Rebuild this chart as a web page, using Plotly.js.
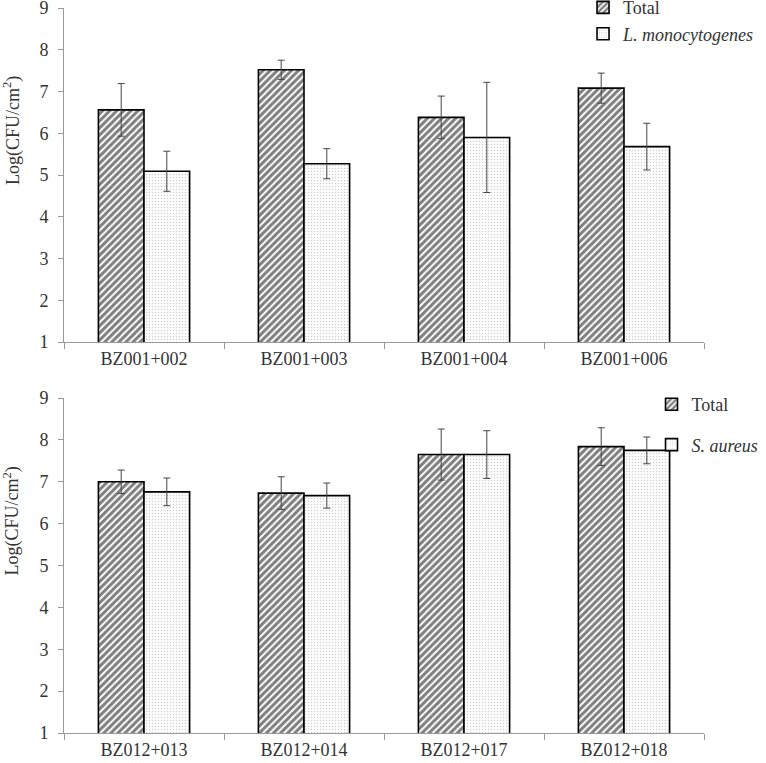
<!DOCTYPE html>
<html>
<head>
<meta charset="utf-8">
<script src="https://cdn.plot.ly/plotly-3.0.1.min.js"></script>
<style>html,body{margin:0;padding:0;background:#fff;}#chart{width:766px;height:763px;}</style>
</head>
<body>
<div id="chart"></div>
<script>
// Top panel
const catsTop = ["BZ001+002", "BZ001+003", "BZ001+004", "BZ001+006"];
const totalTop = [6.56, 7.52, 6.38, 7.08];
const totalTopErr = [0.63, 0.23, 0.51, 0.36];
const listeria = [5.09, 5.27, 5.90, 5.68];
const listeriaErr = [0.48, 0.36, 1.32, 0.56];
// Bottom panel
const catsBot = ["BZ012+013", "BZ012+014", "BZ012+017", "BZ012+018"];
const totalBot = [7.00, 6.73, 7.65, 7.84];
const totalBotErr = [0.28, 0.39, 0.61, 0.45];
const aureus = [6.76, 6.67, 7.65, 7.75];
const aureusErr = [0.33, 0.30, 0.57, 0.32];

const FONT = "'Liberation Serif', 'Times New Roman', serif";
const FS = 18;
const hatch = {shape: "/", fgcolor: "#000", bgcolor: "#fff", size: 5, solidity: 0.6, fillmode: "overlay"};
const dots = {shape: ".", fgcolor: "#999", bgcolor: "#fff", size: 3, solidity: 0.2, fillmode: "overlay"};
const line = {color: "#000", width: 1.6};
const err = (a) => ({type: "data", array: a, visible: true, color: "#444", thickness: 1, width: 3.5});

const traces = [
  {type: "bar", name: "Total", x: catsTop, y: totalTop, error_y: err(totalTopErr),
   marker: {color: "#fff", pattern: hatch, line: line}, xaxis: "x", yaxis: "y", legend: "legend"},
  {type: "bar", name: "<i>L. monocytogenes</i>", x: catsTop, y: listeria, error_y: err(listeriaErr),
   marker: {color: "#fff", pattern: dots, line: line}, xaxis: "x", yaxis: "y", legend: "legend"},
  {type: "bar", name: "Total", x: catsBot, y: totalBot, error_y: err(totalBotErr), legendgroup: "a",
   marker: {color: "#fff", pattern: hatch, line: line}, xaxis: "x2", yaxis: "y2", legend: "legend2"},
  {type: "bar", name: "<i>S. aureus</i>", x: catsBot, y: aureus, error_y: err(aureusErr), legendgroup: "b",
   marker: {color: "#fff", pattern: dots, line: line}, xaxis: "x2", yaxis: "y2", legend: "legend2"}
];

const xax = (anchor) => ({
  anchor: anchor, domain: [0, 1], showline: true, linecolor: "#999", linewidth: 1,
  ticks: "outside", tickson: "boundaries", ticklen: 6, tickcolor: "#999",
  tickfont: {family: FONT, size: FS, color: "#333"}, showgrid: false
});
const yax = (anchor, domain) => ({
  anchor: anchor, domain: domain, range: [1, 9], dtick: 1, tick0: 1, showline: true, linecolor: "#999",
  linewidth: 1, ticks: "outside", ticklen: 5, tickcolor: "#999", showgrid: false, zeroline: false,
  ticklabelstandoff: 6, ticklabeloverflow: "allow", tickfont: {family: FONT, size: FS, color: "#333"}
});

const layout = {
  width: 766, height: 763,
  margin: {l: 64, r: 62, t: 8, b: 30, autoexpand: false},
  paper_bgcolor: "#fff", plot_bgcolor: "#fff",
  barmode: "group", bargap: 0.43, bargroupgap: 0,
  font: {family: FONT, color: "#333"},
  xaxis: xax("y"), yaxis: yax("x", [0.5393, 1]),
  xaxis2: xax("y2"), yaxis2: yax("x2", [0, 0.4620]),
  legend: {x: 0.811, y: 1.026, xanchor: "left", yanchor: "top", bgcolor: "rgba(0,0,0,0)",
           font: {family: FONT, size: FS, color: "#333"}, itemwidth: 30},
  legend2: {x: 0.918, y: 0.4786, xanchor: "left", yanchor: "top", bgcolor: "rgba(0,0,0,0)",
            traceorder: "grouped", tracegroupgap: 14,
            font: {family: FONT, size: FS, color: "#333"}, itemwidth: 30},
  annotations: [
    {text: "Log(CFU/cm<sup>2</sup>)", xref: "paper", yref: "paper", x: -0.081, y: 0.8305,
     xanchor: "center", yanchor: "middle",
     textangle: -90, showarrow: false, font: {family: FONT, size: FS, color: "#333"}},
    {text: "Log(CFU/cm<sup>2</sup>)", xref: "paper", yref: "paper", x: -0.081, y: 0.2918,
     xanchor: "center", yanchor: "middle",
     textangle: -90, showarrow: false, font: {family: FONT, size: FS, color: "#333"}}
  ]
};

Plotly.newPlot("chart", traces, layout, {displayModeBar: false, staticPlot: true});
</script>
</body>
</html>
